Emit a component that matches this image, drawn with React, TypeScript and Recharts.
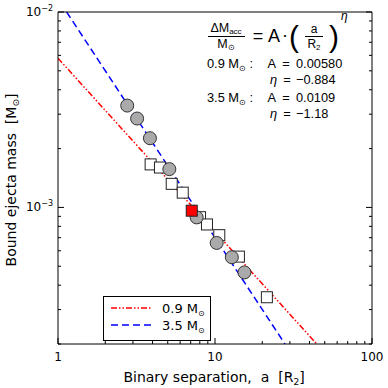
import { ComposedChart, Legend, Line, Scatter, XAxis, YAxis } from 'recharts'

// simulation points (binary separation a [R2], bound ejecta mass [Msun])
const circleSep = [2.76, 3.19, 3.85, 5.12, 7.64, 10.25, 12.8, 15.4]
const circleMass = [0.00332, 0.00285, 0.00226, 0.00157, 0.000889, 0.000658, 0.000556, 0.000465]
const squareSep = [3.89, 4.46, 5.3, 6.23, 8.03, 8.89, 10.65, 14.2, 21.4]
const squareMass = [0.00166, 0.0016, 0.00132, 0.00119, 0.000891, 0.000818, 0.000721, 0.00056, 0.000347]
const refSep = [7.11]
const refMass = [0.000962]

// fitted power laws, end points of each straight line on the log-log axes
const fit09Sep = [1, 44.5]
const fit09Mass = [0.0058, 0.0002]
const fit35Sep = [1.135, 27.9]
const fit35Mass = [0.01, 0.0002]

const xMajor = [1, 10, 100]
const xMinor = [2, 3, 4, 5, 6, 7, 8, 9, 20, 30, 40, 50, 60, 70, 80, 90]
const yMajor = [0.001, 0.01]
const yMajorExp = ['−3', '−2']
const yMinor = [0.0002, 0.0003, 0.0004, 0.0005, 0.0006, 0.0007, 0.0008, 0.0009, 0.002, 0.003, 0.004, 0.005, 0.006, 0.007, 0.008, 0.009]

const fitRows = [
  { mass: '0.9', a: '0.00580', eta: '−0.884' },
  { mass: '3.5', a: '0.0109', eta: '−1.18' },
]

const FONT = '"DejaVu Sans", sans-serif'
const NOTE_FONT = '"Liberation Sans", sans-serif'
const SP = '\u00a0'

const zip = (xs: number[], ys: number[]) => xs.map((x, i) => ({ x, y: ys[i] }))
const circles = zip(circleSep, circleMass)
const squares = zip(squareSep, squareMass)
const refPoint = zip(refSep, refMass)
const fit09 = zip(fit09Sep, fit09Mass)
const fit35 = zip(fit35Sep, fit35Mass)
const xTicks = [...xMajor, ...xMinor].sort((a, b) => a - b)
const yTicks = [...yMajor, ...yMinor].sort((a, b) => a - b)

function XTick({ x, y, payload, top }: any) {
  const major = xMajor.includes(payload.value)
  const len = major ? 6 : 3
  return (
    <g>
      <line x1={x} x2={x} y1={y} y2={top ? y + len : y - len} stroke="#000" />
      {major && !top && (
        <text x={x} y={y + 17} textAnchor="middle" fontSize={12} fontFamily={FONT} fill="#000">{payload.value}</text>
      )}
    </g>
  )
}

function YTick({ x, y, payload, right }: any) {
  const idx = yMajor.indexOf(payload.value)
  const len = idx >= 0 ? 6 : 3
  return (
    <g>
      <line x1={x} x2={right ? x - len : x + len} y1={y} y2={y} stroke="#000" />
      {idx >= 0 && !right && (
        <text x={x - 5} y={y + 4} textAnchor="end" fontSize={12} fontFamily={FONT} fill="#000">
          10<tspan dy={-5} fontSize={8}>{yMajorExp[idx]}</tspan>
        </text>
      )}
    </g>
  )
}

const Circle = ({ cx, cy }: any) => <circle cx={cx} cy={cy} r={6.5} fill="#aaaaaa" stroke="#333" strokeWidth={1} />
const Square = ({ cx, cy, fill }: any) => <rect x={cx - 5.5} y={cy - 5.5} width={11} height={11} fill={fill} stroke="#222" strokeWidth={1} />

function LegendBox() {
  const rows = [
    { color: '#ff0000', dash: '6 2 1.5 2 1.5 2', label: '0.9' },
    { color: '#0000ff', dash: '7 4', label: '3.5' },
  ]
  return (
    <svg width={108} height={45} style={{ display: 'block' }}>
      <rect x={0.5} y={0.5} width={107} height={44} fill="#fff" stroke="#000" />
      {rows.map((r, i) => (
        <g key={r.label}>
          <line x1={8} x2={48} y1={12 + i * 17} y2={12 + i * 17} stroke={r.color} strokeWidth={1.5} strokeDasharray={r.dash} />
          <text x={59} y={17 + i * 17} fontSize={13} fontFamily={FONT} fill="#000">
            {r.label} M<tspan dy={3} fontSize={8}>⊙</tspan>
          </text>
        </g>
      ))}
    </svg>
  )
}

function Annotations() {
  return (
    <svg width={388} height={388} style={{ position: 'absolute', left: 0, top: 0, pointerEvents: 'none' }} fontFamily={FONT}>
      <text x={214} y={382} textAnchor="middle" fontSize={14}>
        {`Binary separation,${SP}${SP}a${SP}${SP}[R`}<tspan dy={3} fontSize={9}>2</tspan><tspan dy={-3}>]</tspan>
      </text>
      <text transform="translate(16,180) rotate(-90)" textAnchor="middle" fontSize={14}>
        {`Bound ejecta mass${SP}${SP}[M`}<tspan dy={3} fontSize={9}>⊙</tspan><tspan dy={-3}>]</tspan>
      </text>
      <g fontFamily={NOTE_FONT}>
        {/* formula */}
        <text x={226} y={32} textAnchor="middle" fontSize={12.5}>ΔM<tspan dy={2} fontSize={8}>acc</tspan></text>
        <line x1={208} x2={245} y1={36.5} y2={36.5} stroke="#000" />
        <text x={226} y={48} textAnchor="middle" fontSize={12.5}>M<tspan dy={2} fontSize={8}>⊙</tspan></text>
        <text x={258} y={42} textAnchor="middle" fontSize={18}>=</text>
        <text x={274} y={42} textAnchor="middle" fontSize={18}>A</text>
        <text x={285} y={41} textAnchor="middle" fontSize={18}>·</text>
        <text x={294} y={47} textAnchor="middle" fontSize={30}>(</text>
        <text x={314} y={33} textAnchor="middle" fontSize={12}>a</text>
        <line x1={305} x2={323} y1={36.5} y2={36.5} stroke="#000" />
        <text x={314} y={48} textAnchor="middle" fontSize={12}>R<tspan dy={2} fontSize={8}>2</tspan></text>
        <text x={334} y={47} textAnchor="middle" fontSize={30}>)</text>
        <text x={341} y={20} fontSize={12} fontStyle="italic">η</text>
        {/* fit parameters */}
        {fitRows.map((r, i) => {
          const y = 68 + i * 34
          return (
            <g key={r.mass} fontSize={12.8}>
              <text x={207} y={y}>{r.mass} M<tspan dy={3} fontSize={8}>⊙</tspan><tspan dy={-3}>{` :`}</tspan></text>
              <text x={276} y={y} textAnchor="end">A</text>
              <text x={286} y={y} textAnchor="middle">=</text>
              <text x={296} y={y}>{r.a}</text>
              <text x={277} y={y + 16} textAnchor="end" fontStyle="italic">η</text>
              <text x={287} y={y + 16} textAnchor="middle">=</text>
              <text x={296} y={y + 16}>{r.eta}</text>
            </g>
          )
        })}
      </g>
    </svg>
  )
}

export default function App() {
  return (
    <div style={{ position: 'relative', width: 388, height: 388, background: '#fff' }}>
      <style>{'body{margin:0}'}</style>
      <ComposedChart width={388} height={388} margin={{ top: 11, right: 15, bottom: 43, left: 57 }}>
        <XAxis xAxisId={0} dataKey="x" type="number" scale="log" domain={[1, 100]} allowDataOverflow ticks={xTicks} interval={0}
          height={1} tickSize={0} tickMargin={0} tickLine={false} stroke="#000" tick={<XTick />} />
        <XAxis xAxisId="top" orientation="top" type="number" scale="log" domain={[1, 100]} allowDataOverflow ticks={xTicks} interval={0}
          height={1} tickSize={0} tickMargin={0} tickLine={false} stroke="#000" tick={<XTick top />} />
        <YAxis yAxisId={0} dataKey="y" type="number" scale="log" domain={[0.0002, 0.01]} allowDataOverflow ticks={yTicks} interval={0}
          width={1} tickSize={0} tickMargin={0} tickLine={false} stroke="#000" tick={<YTick />} />
        <YAxis yAxisId="right" orientation="right" type="number" scale="log" domain={[0.0002, 0.01]} allowDataOverflow ticks={yTicks} interval={0}
          width={1} tickSize={0} tickMargin={0} tickLine={false} stroke="#000" tick={<YTick right />} />
        <Scatter data={squares} shape={(p: any) => <Square {...p} fill="#fff" />} isAnimationActive={false} />
        <Scatter data={circles} shape={(p: any) => <Circle {...p} />} isAnimationActive={false} />
        <Scatter data={refPoint} shape={(p: any) => <Square {...p} fill="#ff0000" />} isAnimationActive={false} />
        <Line data={fit09} dataKey="y" type="linear" dot={false} stroke="#ff0000" strokeWidth={1.5} strokeDasharray="6 2 1.5 2 1.5 2" isAnimationActive={false} />
        <Line data={fit35} dataKey="y" type="linear" dot={false} stroke="#0000ff" strokeWidth={1.5} strokeDasharray="7 4" isAnimationActive={false} />
        <Legend layout="horizontal" verticalAlign="middle" align="center" content={<LegendBox />}
          wrapperStyle={{ position: 'absolute', left: 103, top: 296, width: 108, height: 45, bottom: 'auto' }} />
      </ComposedChart>
      <Annotations />
    </div>
  )
}
